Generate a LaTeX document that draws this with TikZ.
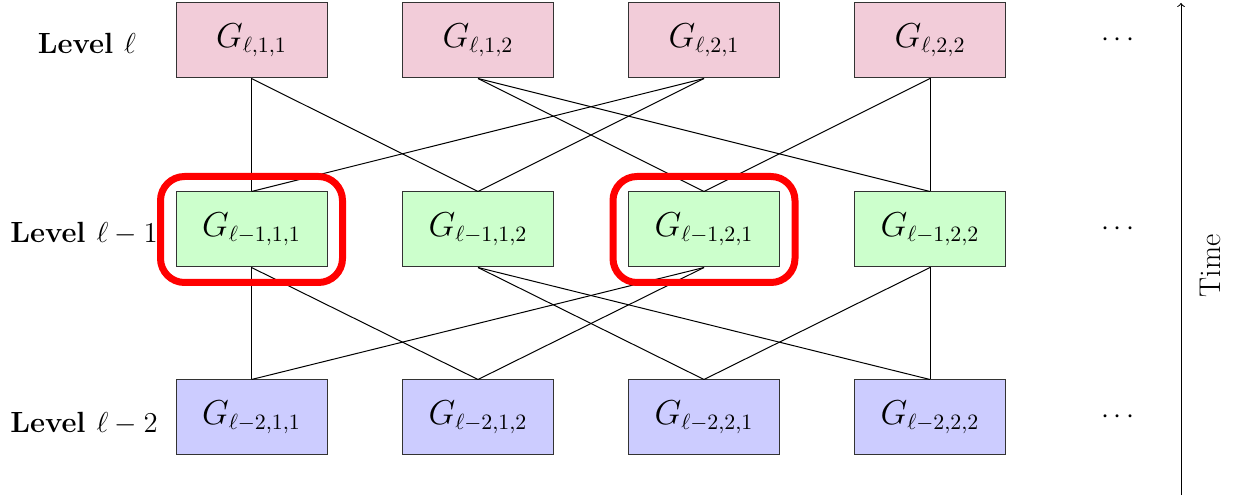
\documentclass[tikz,border=0pt]{standalone}
\usetikzlibrary{fit}
\begin{document}
\begin{tikzpicture}[x=0.5pt,y=-0.5pt,
  gbox/.style={draw=black!80,line width=0.5pt,minimum width=75.5pt,minimum height=37.5pt,inner sep=0pt,font=\fontsize{16}{19}\selectfont},
  topbox/.style={gbox,fill=purple!20},
  midbox/.style={gbox,fill=green!20},
  botbox/.style={gbox,fill=blue!20},
  edge/.style={line width=0.5pt,black},
  lvl/.style={anchor=base,font=\fontsize{14.6}{17}\selectfont\bfseries},
  hl/.style={draw=red,line width=3.5pt,rounded corners=12pt,inner sep=7.5pt},
  dotsnode/.style={font=\fontsize{14.4}{17}\selectfont}
]
\useasboundingbox (0,0) rectangle (1238,497);
% top row
\node[topbox] (t11) at (251.5,40.5) {$G_{\ell,1,1}$};
\node[topbox] (t12) at (478,40.5) {$G_{\ell,1,2}$};
\node[topbox] (t21) at (704,40.5) {$G_{\ell,2,1}$};
\node[topbox] (t22) at (930,40.5) {$G_{\ell,2,2}$};
% middle row
\node[midbox] (m11) at (251.5,229.5) {$G_{\ell-1,1,1}$};
\node[midbox] (m12) at (478,229.5) {$G_{\ell-1,1,2}$};
\node[midbox] (m21) at (704,229.5) {$G_{\ell-1,2,1}$};
\node[midbox] (m22) at (930,229.5) {$G_{\ell-1,2,2}$};
% bottom row
\node[botbox] (b11) at (251.5,417.5) {$G_{\ell-2,1,1}$};
\node[botbox] (b12) at (478,417.5) {$G_{\ell-2,1,2}$};
\node[botbox] (b21) at (704,417.5) {$G_{\ell-2,2,1}$};
\node[botbox] (b22) at (930,417.5) {$G_{\ell-2,2,2}$};
% labels
\node[lvl] (l0) at (87,54) {Level $\ell$};
\node[lvl] (l1) at (84,243) {Level $\ell-1$};
\node[lvl] (l2) at (84,432) {Level $\ell-2$};
% dots
\node[dotsnode] (d0) at (1118,40.5) {$\cdots$};
\node[dotsnode] (d1) at (1118,229.5) {$\cdots$};
\node[dotsnode] (d2) at (1118,417.5) {$\cdots$};
% edges top -> middle
\draw[edge] (t11.south) -- (m11.north);
\draw[edge] (t11.south) -- (m12.north);
\draw[edge] (t12.south) -- (m21.north);
\draw[edge] (t12.south) -- (m22.north);
\draw[edge] (t21.south) -- (m11.north);
\draw[edge] (t21.south) -- (m12.north);
\draw[edge] (t22.south) -- (m21.north);
\draw[edge] (t22.south) -- (m22.north);
% edges middle -> bottom
\draw[edge] (m11.south) -- (b11.north);
\draw[edge] (m11.south) -- (b12.north);
\draw[edge] (m12.south) -- (b21.north);
\draw[edge] (m12.south) -- (b22.north);
\draw[edge] (m21.south) -- (b11.north);
\draw[edge] (m21.south) -- (b12.north);
\draw[edge] (m22.south) -- (b21.north);
\draw[edge] (m22.south) -- (b22.north);
% highlights
\node[hl,fit=(m11)] (h1) {};
\node[hl,fit=(m21)] (h2) {};
% time axis
\coordinate (ts) at (1181,495);
\coordinate (te) at (1181,3);
\draw[edge,->] (ts) -- (te);
\node[rotate=90,font=\fontsize{15}{18}\selectfont] (time) at (1210,266) {Time};
\end{tikzpicture}
\end{document}
